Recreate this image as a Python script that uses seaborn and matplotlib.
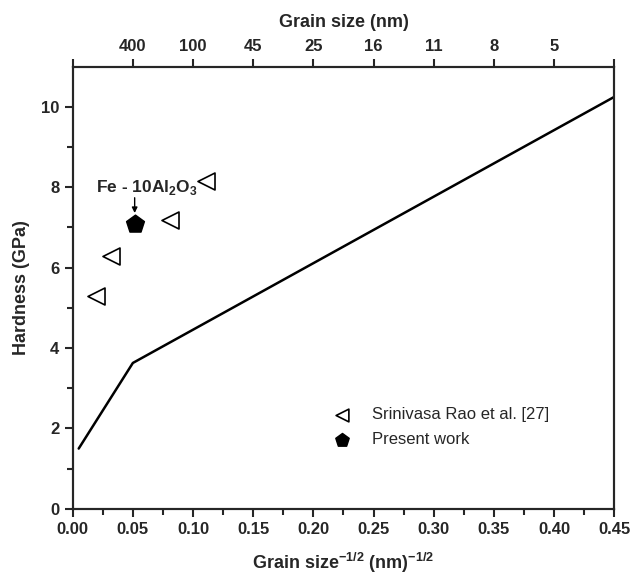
import pandas as pd
import matplotlib
matplotlib.use('Agg')
import matplotlib.pyplot as plt
import seaborn as sns

# data
rao_x = [0.019, 0.032, 0.081, 0.111]
rao_y = [5.30, 6.28, 7.18, 8.16]
present_x = [0.0515]
present_y = [7.09]
fit_x = [0.005, 0.050, 0.450]
fit_y = [1.50, 3.63, 10.25]
top_ticks = [0.0, 0.05, 0.10, 0.15, 0.20, 0.25, 0.30, 0.35, 0.40, 0.45]
top_labels = ['', '400', '100', '45', '25', '16', '11', '8', '5', '']

sns.set_style('ticks')
plt.rcParams['font.family'] = ['Liberation Sans', 'DejaVu Sans']
plt.rcParams['mathtext.fontset'] = 'custom'
plt.rcParams['mathtext.rm'] = 'Liberation Sans'
plt.rcParams['mathtext.bf'] = 'Liberation Sans:bold'

rao = pd.DataFrame({'x': rao_x, 'y': rao_y})
present = pd.DataFrame({'x': present_x, 'y': present_y})
fit = pd.DataFrame({'x': fit_x, 'y': fit_y})

fig = plt.figure(figsize=(6.32, 5.75), dpi=100)
ax = fig.add_axes([0.115, 0.115, 0.857, 0.769])

sns.lineplot(data=fit, x='x', y='y', ax=ax, color='black', lw=1.8, sort=False)
sns.scatterplot(data=rao, x='x', y='y', ax=ax, marker='<', s=150,
                facecolor='white', edgecolor='black', linewidth=1.2,
                label='Srinivasa Rao et al. [27]')
sns.scatterplot(data=present, x='x', y='y', ax=ax, marker='p', s=180,
                color='black', edgecolor='black', label='Present work')

ax.set_xlim(0, 0.45)
ax.set_ylim(0, 11)
ax.set_xticks([0.0, 0.05, 0.10, 0.15, 0.20, 0.25, 0.30, 0.35, 0.40, 0.45])
ax.set_xticklabels(['0.00', '0.05', '0.10', '0.15', '0.20', '0.25', '0.30',
                    '0.35', '0.40', '0.45'])
ax.set_xticks([0.025 + 0.05 * i for i in range(9)], minor=True)
ax.set_yticks([0, 2, 4, 6, 8, 10])
ax.set_yticks([1, 3, 5, 7, 9], minor=True)
ax.tick_params(which='major', direction='out', length=6, width=1.5,
               labelsize=12, right=False, top=False)
ax.tick_params(which='minor', direction='out', length=4, width=1.5,
               right=False, top=False)
for lab in ax.get_xticklabels() + ax.get_yticklabels():
    lab.set_fontweight('bold')
for sp in ax.spines.values():
    sp.set_linewidth(1.5)
    sp.set_color('black')

ax.set_xlabel(r'Grain size$^{\mathbf{-1/2}}$ (nm)$^{\mathbf{-1/2}}$',
              fontsize=13, fontweight='bold', labelpad=10)
ax.set_ylabel('Hardness (GPa)', fontsize=13, fontweight='bold', labelpad=8)

# top axis with grain size in nm
top = ax.twiny()
top.set_xlim(ax.get_xlim())
top.set_xticks(top_ticks)
top.set_xticklabels(top_labels)
top.tick_params(direction='out', length=6, width=1.5, labelsize=12)
for lab in top.get_xticklabels():
    lab.set_fontweight('bold')
top.set_xlabel('Grain size (nm)', fontsize=13, fontweight='bold', labelpad=8)
for sp in top.spines.values():
    sp.set_linewidth(1.5)

ax.annotate('', xy=(0.0515, 7.36), xytext=(0.0515, 7.74),
            arrowprops=dict(arrowstyle='-|>', color='black', lw=1,
                            mutation_scale=8, shrinkA=0, shrinkB=0))
ax.text(0.0615, 7.76, r'Fe - 10Al$_\mathbf{2}$O$_\mathbf{3}$', ha='center',
        va='bottom', fontsize=12.5, fontweight='bold')

ax.legend(loc='upper left', bbox_to_anchor=(0.455, 0.245), frameon=False,
          fontsize=12, handletextpad=0.8, labelspacing=0.6, borderaxespad=0,
          markerscale=0.75)

fig.savefig('out.png', dpi=100)
